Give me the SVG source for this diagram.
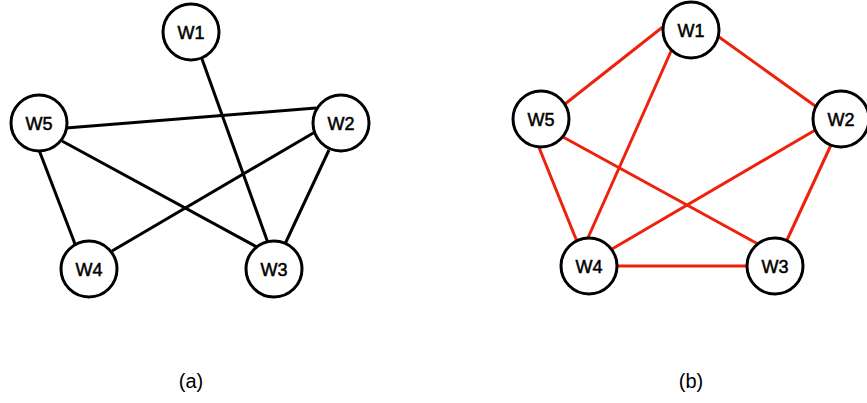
<svg xmlns="http://www.w3.org/2000/svg" width="867" height="403" viewBox="0 0 867 403">
<style>
.node circle{fill:#fff;stroke:#000;stroke-width:3}
.node text{font-family:"Liberation Sans",Arial,sans-serif;font-size:18px;text-anchor:middle;fill:#000;stroke:#000;stroke-width:0.5}
.ea line{stroke:#000;stroke-width:3}
.eb line{stroke:#ee220c;stroke-width:3}
.cap{font-family:"Liberation Sans",Arial,sans-serif;font-size:20px;text-anchor:middle;fill:#000}
</style>
<rect width="867" height="403" fill="#fff"/>
<g id="connectors">
<g class="ea">
<line x1="202" y1="59" x2="268" y2="243"/>
<line x1="66" y1="128" x2="316" y2="108"/>
<line x1="39" y1="150" x2="75" y2="244"/>
<line x1="62" y1="141" x2="257" y2="247"/>
<line x1="315" y1="132" x2="112" y2="251"/>
<line x1="329" y1="150" x2="285" y2="244"/>
</g>
<g class="eb">
<line x1="664" y1="26" x2="565" y2="104"/>
<line x1="719" y1="37" x2="818" y2="108"/>
<line x1="672" y1="49" x2="587" y2="240"/>
<line x1="538" y1="145" x2="578" y2="244"/>
<line x1="563" y1="137" x2="758" y2="244"/>
<line x1="817" y1="129" x2="612" y2="249"/>
<line x1="831" y1="145" x2="787" y2="240"/>
<line x1="615" y1="266" x2="750" y2="266"/>
</g>
</g>
<g id="a-W1" class="node"><circle cx="191" cy="32" r="28"/><text x="191" y="38.5">W1</text></g>
<g id="a-W5" class="node"><circle cx="39" cy="123" r="28"/><text x="39" y="129.5">W5</text></g>
<g id="a-W2" class="node"><circle cx="341" cy="123" r="28"/><text x="341" y="129.5">W2</text></g>
<g id="a-W4" class="node"><circle cx="89" cy="269" r="28"/><text x="89" y="275.5">W4</text></g>
<g id="a-W3" class="node"><circle cx="274" cy="269" r="28"/><text x="274" y="275.5">W3</text></g>
<g id="b-W1" class="node"><circle cx="691" cy="30" r="28"/><text x="691" y="36.5">W1</text></g>
<g id="b-W5" class="node"><circle cx="541" cy="119" r="28"/><text x="541" y="125.5">W5</text></g>
<g id="b-W2" class="node"><circle cx="841" cy="119" r="28"/><text x="841" y="125.5">W2</text></g>
<g id="b-W4" class="node"><circle cx="589" cy="266" r="28"/><text x="589" y="272.5">W4</text></g>
<g id="b-W3" class="node"><circle cx="775" cy="266" r="28"/><text x="775" y="272.5">W3</text></g>
<text class="cap" x="191" y="388">(a)</text>
<text class="cap" x="691" y="388">(b)</text>
</svg>
